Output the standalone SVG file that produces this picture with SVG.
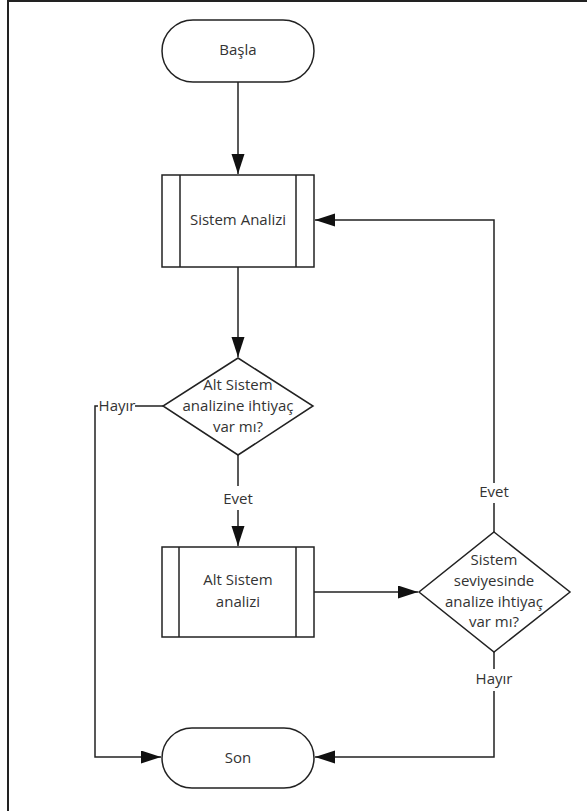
<svg xmlns="http://www.w3.org/2000/svg" width="587" height="811" viewBox="0 0 587 811">
<style>
.shape{fill:#fff;stroke:#222;stroke-width:1.5}
.line{fill:none;stroke:#222;stroke-width:1.5}
.t{font-family:"Open Sans","Noto Sans",sans-serif;font-size:15px;fill:#333;text-anchor:middle}
.bg{fill:#fff}
</style>
<defs>
<marker id="arr" markerUnits="userSpaceOnUse" markerWidth="21" markerHeight="14" refX="20" refY="6.5" orient="auto">
<path d="M0,0 L20,6.5 L0,13 Z" fill="#111"/>
</marker>
</defs>
<rect width="587" height="811" fill="#fff"/>
<path d="M8,811 V1 H587" fill="none" stroke="#222" stroke-width="2"/>
<g id="connectors">
<path class="line" d="M238,82 V174" marker-end="url(#arr)"/>
<path class="line" d="M238,267 V357" marker-end="url(#arr)"/>
<path class="line" d="M238,455 V546" marker-end="url(#arr)"/>
<path class="line" d="M163,406 H95 V757 H161" marker-end="url(#arr)"/>
<path class="line" d="M314,592 H418" marker-end="url(#arr)"/>
<path class="line" d="M494,532 V220 H315" marker-end="url(#arr)"/>
<path class="line" d="M494,652 V757 H315" marker-end="url(#arr)"/>
<rect class="bg" x="98" y="397" width="37" height="18"/>
<text class="t" x="117" y="411">Hayır</text>
<rect class="bg" x="222" y="486" width="32" height="24"/>
<text class="t" x="238" y="504">Evet</text>
<rect class="bg" x="478" y="483" width="32" height="20"/>
<text class="t" x="494" y="497">Evet</text>
<rect class="bg" x="474" y="669" width="40" height="22"/>
<text class="t" x="494" y="684">Hayır</text>
</g>
<g id="basla">
<rect class="shape" x="162" y="20" width="152" height="62" rx="31"/>
<text class="t" x="238" y="55">Başla</text>
</g>
<g id="sistem-analizi">
<rect class="shape" x="162" y="175" width="152" height="92"/>
<line class="line" x1="180" y1="175" x2="180" y2="267"/>
<line class="line" x1="296" y1="175" x2="296" y2="267"/>
<text class="t" x="238" y="225">Sistem Analizi</text>
</g>
<g id="karar-alt-sistem">
<polygon class="shape" points="238,358 313,406 238,455 163,406"/>
<text class="t" x="238" y="390">Alt Sistem</text>
<text class="t" x="238" y="411">analizine ihtiyaç</text>
<text class="t" x="238" y="432">var mı?</text>
</g>
<g id="alt-sistem-analizi">
<rect class="shape" x="162" y="547" width="152" height="90"/>
<line class="line" x1="179" y1="547" x2="179" y2="637"/>
<line class="line" x1="296" y1="547" x2="296" y2="637"/>
<text class="t" x="238" y="585">Alt Sistem</text>
<text class="t" x="238" y="607">analizi</text>
</g>
<g id="karar-sistem">
<polygon class="shape" points="494,532 570,592 494,652 419,592"/>
<text class="t" x="494" y="565">Sistem</text>
<text class="t" x="494" y="586">seviyesinde</text>
<text class="t" x="494" y="607">analize ihtiyaç</text>
<text class="t" x="494" y="627">var mı?</text>
</g>
<g id="son">
<rect class="shape" x="162" y="728" width="152" height="60" rx="30"/>
<text class="t" x="238" y="763">Son</text>
</g>
</svg>
